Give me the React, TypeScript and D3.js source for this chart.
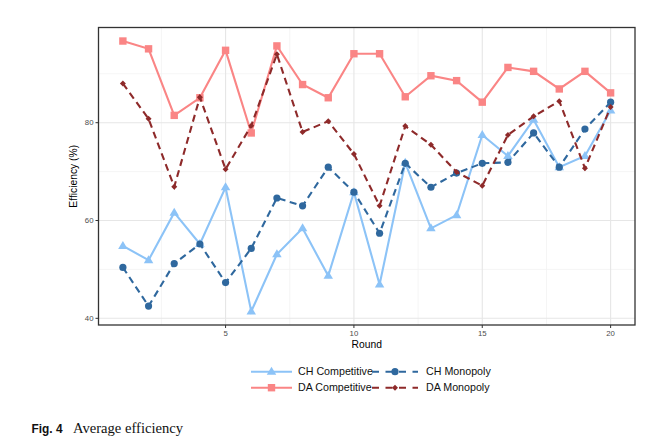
import * as d3 from "d3";

const rounds = d3.range(1, 21);
const chCompetitive = [54.8, 51.9, 61.6, 55.2, 66.8, 41.4, 53.1, 58.4, 48.7, 65.8, 46.9, 71.8, 58.4, 61.1, 77.5, 73.2, 80.6, 70.9, 73.2, 82.5];
const chMonopoly = [50.4, 42.5, 51.2, 55.2, 47.3, 54.3, 64.6, 63.0, 70.9, 65.8, 57.4, 71.7, 66.8, 69.7, 71.7, 71.9, 77.9, 70.9, 78.7, 84.2];
const daCompetitive = [96.7, 95.1, 81.5, 85.1, 94.8, 77.9, 95.7, 87.8, 85.1, 94.1, 94.1, 85.3, 89.6, 88.6, 84.2, 91.3, 90.5, 86.9, 90.5, 86.1];
const daMonopoly = [88.0, 80.8, 66.9, 85.2, 70.5, 79.4, 94.0, 78.1, 80.3, 73.6, 63.0, 79.3, 75.5, 69.9, 67.1, 77.5, 81.3, 84.4, 70.7, 83.2];

const xTicks = [5, 10, 15, 20];
const yTicks = [40, 60, 80];

type Series = { name: string; values: number[]; color: string; dashed: boolean; shape: string };

const series: Series[] = [
  { name: "CH Competitive", values: chCompetitive, color: "#8cc3f7", dashed: false, shape: "triangle" },
  { name: "DA Competitive", values: daCompetitive, color: "#fa8585", dashed: false, shape: "square" },
  { name: "CH Monopoly", values: chMonopoly, color: "#2f689e", dashed: true, shape: "circle" },
  { name: "DA Monopoly", values: daMonopoly, color: "#8e2a2a", dashed: true, shape: "diamond" },
];

const panel = { left: 98.5, right: 635, top: 27.5, bottom: 325 };
const font = "'Liberation Sans', Arial, sans-serif";

const Marker = ({ shape, x, y, color }: { shape: string; x: number; y: number; color: string }) => {
  if (shape === "triangle") {
    const s = 5;
    return <path d={`M${x},${y - s}L${x + s * 0.95},${y + s * 0.6}L${x - s * 0.95},${y + s * 0.6}Z`} fill={color} />;
  }
  if (shape === "square") return <rect x={x - 3.7} y={y - 3.7} width={7.4} height={7.4} fill={color} />;
  if (shape === "circle") return <circle cx={x} cy={y} r={3.6} fill={color} />;
  return <path d={`M${x},${y - 3}L${x + 3},${y}L${x},${y + 3}L${x - 3},${y}Z`} fill={color} />;
};

export default function App() {
  const all = series.flatMap(s => s.values);
  const [lo, hi] = d3.extent(all) as [number, number];
  const pad = (hi - lo) * 0.05;
  const x = d3.scaleLinear().domain([1 - 19 * 0.05, 20 + 19 * 0.05]).range([panel.left, panel.right]);
  const y = d3.scaleLinear().domain([lo - pad, hi + pad]).range([panel.bottom, panel.top]);
  const line = d3.line<number>().x((_, i) => x(rounds[i])).y(d => y(d));

  const xMinor = [2.5, 7.5, 12.5, 17.5];
  const yMinor = [50, 70, 90];

  const legendRows = [
    [series[0], series[2]],
    [series[1], series[3]],
  ];

  return (
    <svg width={654} height={446} style={{ position: "absolute", left: 0, top: 0, background: "#fff" }}>
      {/* grid */}
      {xMinor.map(t => (
        <line key={"xm" + t} x1={x(t)} x2={x(t)} y1={panel.top} y2={panel.bottom} stroke="#f2f2f2" strokeWidth={0.8} />
      ))}
      {yMinor.map(t => (
        <line key={"ym" + t} x1={panel.left} x2={panel.right} y1={y(t)} y2={y(t)} stroke="#f2f2f2" strokeWidth={0.8} />
      ))}
      {xTicks.map(t => (
        <line key={"xg" + t} x1={x(t)} x2={x(t)} y1={panel.top} y2={panel.bottom} stroke="#e6e6e6" strokeWidth={1.1} />
      ))}
      {yTicks.map(t => (
        <line key={"yg" + t} x1={panel.left} x2={panel.right} y1={y(t)} y2={y(t)} stroke="#e6e6e6" strokeWidth={1.1} />
      ))}

      {/* series */}
      {series.map(s => (
        <g key={s.name}>
          <path d={line(s.values) ?? ""} fill="none" stroke={s.color} strokeWidth={2.1}
            strokeDasharray={s.dashed ? "7,4.5" : undefined} />
          {s.values.map((v, i) => (
            <Marker key={i} shape={s.shape} x={x(rounds[i])} y={y(v)} color={s.color} />
          ))}
        </g>
      ))}

      {/* panel border */}
      <rect x={panel.left} y={panel.top} width={panel.right - panel.left} height={panel.bottom - panel.top}
        fill="none" stroke="#333" strokeWidth={1.3} />

      {/* axes */}
      {xTicks.map(t => (
        <g key={"xt" + t}>
          <line x1={x(t)} x2={x(t)} y1={panel.bottom} y2={panel.bottom + 3} stroke="#333" strokeWidth={1} />
          <text x={x(t)} y={panel.bottom + 11} textAnchor="middle" fontSize={7.8} fill="#4d4d4d" fontFamily={font}>{t}</text>
        </g>
      ))}
      {yTicks.map(t => (
        <g key={"yt" + t}>
          <line x1={panel.left - 3} x2={panel.left} y1={y(t)} y2={y(t)} stroke="#333" strokeWidth={1} />
          <text x={panel.left - 5} y={y(t)} dy="0.35em" textAnchor="end" fontSize={7.8} fill="#4d4d4d" fontFamily={font}>{t}</text>
        </g>
      ))}
      <text x={(panel.left + panel.right) / 2} y={347.5} textAnchor="middle" fontSize={10.3} fill="#000" fontFamily={font}>Round</text>
      <text transform={`translate(77,${(panel.top + panel.bottom) / 2}) rotate(-90)`} textAnchor="middle" fontSize={10.3} fill="#000" fontFamily={font}>Efficiency (%)</text>

      {/* legend */}
      {legendRows.map((row, r) => (
        <g key={"lr" + r} transform={`translate(0,${371.7 + r * 16})`}>
          {row.map((s, c) => {
            const x0 = c === 0 ? 251 : 372;
            const x1 = c === 0 ? 292 : 418;
            const tx = c === 0 ? 298 : 426;
            return (
              <g key={s.name}>
                <line x1={x0} x2={x1} y1={0} y2={0} stroke={s.color} strokeWidth={2.1}
                  strokeDasharray={s.dashed ? "7,6.5" : undefined} />
                <Marker shape={s.shape} x={(x0 + x1) / 2} y={0} color={s.color} />
                <text x={tx} y={0} dy="0.35em" fontSize={10.7} fill="#111" fontFamily={font}>{s.name}</text>
              </g>
            );
          })}
        </g>
      ))}

      {/* caption */}
      <text x={31.5} y={433} fontSize={12} fontWeight="bold" fill="#111" fontFamily={font} textLength={31} lengthAdjust="spacingAndGlyphs">Fig. 4</text>
      <text x={73} y={433} fontSize={14.6} fill="#111" fontFamily="'Liberation Serif', 'Times New Roman', serif">Average efficiency</text>
    </svg>
  );
}
